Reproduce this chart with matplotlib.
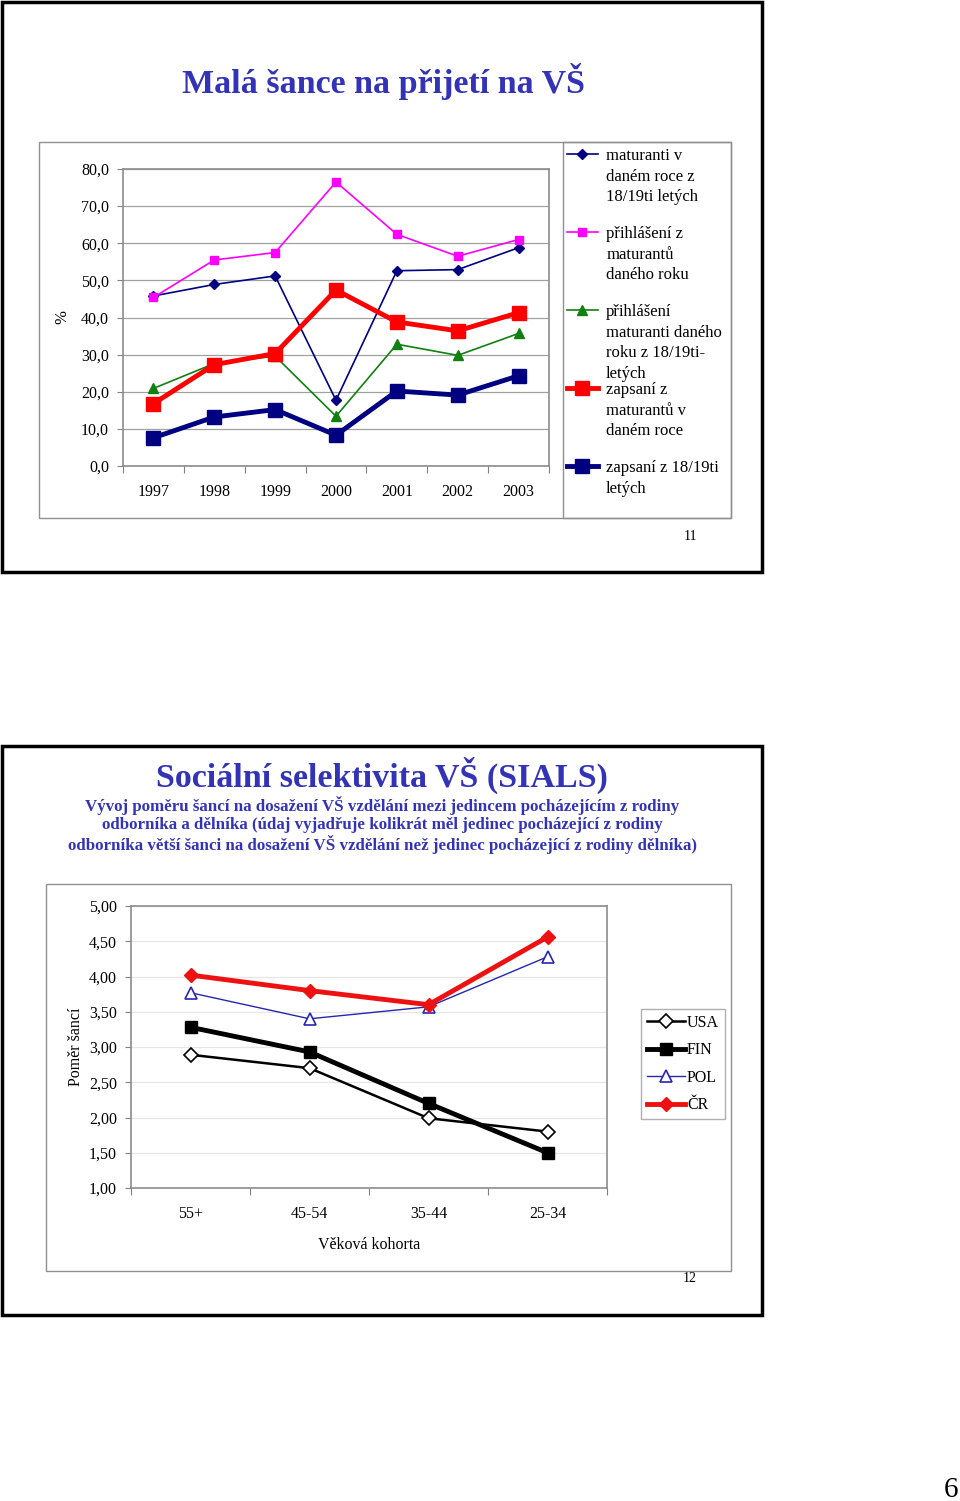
import matplotlib
matplotlib.use("Agg")
import matplotlib.pyplot as plt
from matplotlib.patches import Rectangle

plt.rcParams["font.family"] = ["Liberation Serif", "DejaVu Serif"]

W, H = 960, 1501
TITLE_BLUE = "#3333b8"

# --- slide 11: share of applicants / admitted ---
years = ["1997", "1998", "1999", "2000", "2001", "2002", "2003"]
maturanti = [45.8, 48.9, 51.2, 17.7, 52.6, 52.9, 58.8]
prihlaseni_mat = [45.4, 55.5, 57.5, 76.5, 62.4, 56.5, 61.0]
prihlaseni_1819 = [20.9, 27.6, 29.6, 13.4, 32.8, 29.8, 35.7]
zapsani_mat = [16.8, 27.3, 30.3, 47.4, 38.8, 36.4, 41.3]
zapsani_1819 = [7.6, 13.2, 15.2, 8.3, 20.2, 19.1, 24.3]
labels1 = [
    "maturanti v\ndaném roce z\n18/19ti letých\n",
    "přihlášení z\nmaturantů\ndaného roku\n",
    "přihlášení\nmaturanti daného\nroku z 18/19ti-\nletých",
    "zapsaní z\nmaturantů v\ndaném roce\n",
    "zapsaní z 18/19ti\nletých",
]
yticks1 = [0, 10, 20, 30, 40, 50, 60, 70, 80]
yticklabels1 = ["0,0", "10,0", "20,0", "30,0", "40,0", "50,0", "60,0", "70,0", "80,0"]

# --- slide 12: odds ratio by age cohort ---
cohorts = ["55+", "45-54", "35-44", "25-34"]
usa = [2.89, 2.70, 1.99, 1.80]
fin = [3.28, 2.93, 2.20, 1.50]
pol = [3.77, 3.40, 3.57, 4.28]
cr = [4.02, 3.80, 3.60, 4.56]
yticks2 = [1.0, 1.5, 2.0, 2.5, 3.0, 3.5, 4.0, 4.5, 5.0]
yticklabels2 = ["1,00", "1,50", "2,00", "2,50", "3,00", "3,50", "4,00", "4,50", "5,00"]


def box(x0, y0, x1, y1):
    """pixel box (top-left origin) -> figure fraction rect"""
    return [x0 / W, 1 - y1 / H, (x1 - x0) / W, (y1 - y0) / H]


def frame(fig, x0, y0, x1, y1, lw, color):
    fig.patches.append(Rectangle((x0 / W, 1 - y1 / H), (x1 - x0) / W, (y1 - y0) / H,
                                 transform=fig.transFigure, fill=False,
                                 lw=lw, edgecolor=color))


def style_axes(ax, n, yticks, ylabels, grid_color, pad):
    ax.set_xlim(-0.5, n - 0.5)
    ax.set_xticks([i - 0.5 for i in range(n + 1)])
    ax.set_xticklabels([])
    ax.set_xticks(range(n), minor=True)
    ax.tick_params(axis="x", which="major", direction="out", length=5, color="#808080")
    ax.tick_params(axis="x", which="minor", length=0, pad=pad, labelsize=11.5)
    ax.set_yticks(yticks)
    ax.set_yticklabels(ylabels)
    ax.tick_params(axis="y", direction="out", length=4, color="#808080", labelsize=11.5, pad=6)
    ax.set_ylim(yticks[0], yticks[-1])
    ax.grid(axis="y", color=grid_color, lw=0.9)
    ax.set_axisbelow(True)
    for s in ax.spines.values():
        s.set_color("#8c8c8c")
        s.set_linewidth(1.2)


fig = plt.figure(figsize=(W / 100, H / 100), dpi=100)

# slide borders
frame(fig, 2, 2, 762, 572, 2.5, "black")
frame(fig, 2, 746, 762, 1315, 2.5, "black")

# ---------- slide 11 ----------
fig.text(383 / W, 1 - 82 / H, "Malá šance na přijetí na VŠ", ha="center", va="center",
         fontsize=24.5, fontweight="bold", color=TITLE_BLUE)
frame(fig, 39, 142, 731, 518, 1.0, "#909090")
frame(fig, 563, 142, 731, 518, 1.0, "#909090")

ax1 = fig.add_axes(box(123, 169, 549, 466))
x1 = range(len(years))
ax1.plot(x1, maturanti, color="#000080", lw=1.2, marker="D", ms=5, label=labels1[0])
ax1.plot(x1, prihlaseni_mat, color="#ff00ff", lw=1.2, marker="s", ms=6, label=labels1[1])
ax1.plot(x1, prihlaseni_1819, color="#108010", lw=1.2, marker="^", ms=6.5, label=labels1[2])
ax1.plot(x1, zapsani_mat, color="#ff0000", lw=3.5, marker="s", ms=10, label=labels1[3])
ax1.plot(x1, zapsani_1819, color="#000080", lw=3.5, marker="s", ms=10, label=labels1[4])
style_axes(ax1, len(years), yticks1, yticklabels1, "#a0a0a0", 13)
ax1.set_xticklabels(years, minor=True)
ax1.set_ylabel("%", fontsize=12, labelpad=8)

leg1 = ax1.legend(loc="upper left", bbox_to_anchor=(567 / W, 1 - 148 / H),
                  bbox_transform=fig.transFigure, frameon=False, fontsize=12,
                  labelspacing=0.0, handlelength=1.85, handletextpad=0.5,
                  borderpad=0.0, borderaxespad=0.0)
# marker next to the first line of each multi-line label
for col in leg1._legend_handle_box.get_children():
    col.align = "left"
    for hp in col.get_children():
        hp.align = "top"
for t in leg1.get_texts():
    t.set_linespacing(1.39)
fig.text(690 / W, 1 - 537 / H, "11", ha="center", va="center", fontsize=10)

# ---------- slide 12 ----------
fig.text(382 / W, 1 - 775 / H, "Sociální selektivita VŠ (SIALS)", ha="center", va="center",
         fontsize=24.5, fontweight="bold", color=TITLE_BLUE)
subtitle = ("Vývoj poměru šancí na dosažení VŠ vzdělání mezi jedincem pocházejícím z rodiny\n"
            "odborníka a dělníka (údaj vyjadřuje kolikrát měl jedinec pocházející z rodiny\n"
            "odborníka větší šanci na dosažení VŠ vzdělání než jedinec pocházející z rodiny dělníka)")
fig.text(382 / W, 1 - 825 / H, subtitle, ha="center", va="center", fontsize=12.2,
         fontweight="bold", color=TITLE_BLUE, linespacing=1.18)
frame(fig, 46, 884, 731, 1271, 1.0, "#909090")

ax2 = fig.add_axes(box(131, 906, 607, 1188))
x2 = range(len(cohorts))
ax2.plot(x2, usa, color="black", lw=1.8, marker="D", ms=7, mfc="white", mec="black",
         mew=1.2, label="USA")
ax2.plot(x2, fin, color="black", lw=3.5, marker="s", ms=8, label="FIN")
ax2.plot(x2, pol, color="#2626b0", lw=1.0, marker="^", ms=9, mfc="white", mec="#2626b0",
         mew=1.2, label="POL")
ax2.plot(x2, cr, color="#ee1111", lw=3.5, marker="D", ms=7, label="ČR")
style_axes(ax2, len(cohorts), yticks2, yticklabels2, "#e6e6e6", 13)
ax2.set_xticklabels(cohorts, minor=True)
ax2.set_xlabel("Věková kohorta", fontsize=11.5, labelpad=11)
ax2.set_ylabel("Poměr šancí", fontsize=11.5, labelpad=4)

leg2 = ax2.legend(loc="center", bbox_to_anchor=(683 / W, 1 - 1064 / H),
                  bbox_transform=fig.transFigure, fontsize=11.5, fancybox=False,
                  edgecolor="#b0b0b0", framealpha=1, labelspacing=0.72,
                  handlelength=2.4, handletextpad=0.1, borderpad=0.35)
leg2.get_frame().set_linewidth(1.0)
fig.text(690 / W, 1 - 1279 / H, "12", ha="center", va="center", fontsize=10)

# page number
fig.text(951 / W, 1 - 1477 / H, "6", ha="center", va="top", fontsize=21)

fig.savefig("out.png", dpi=100)
